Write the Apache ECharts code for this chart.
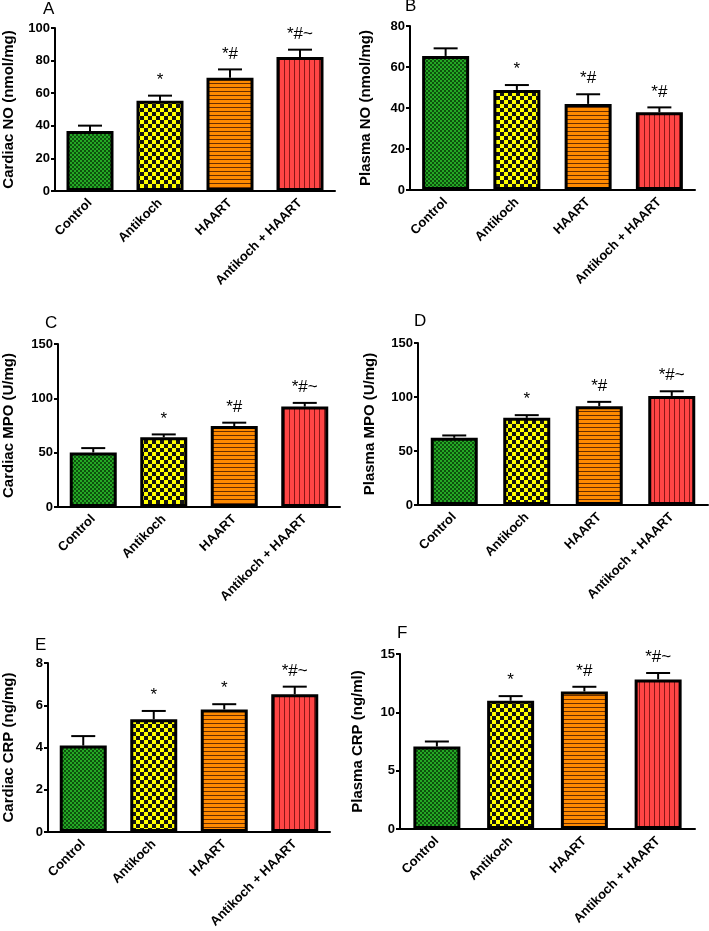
<!DOCTYPE html>
<html>
<head>
<meta charset="utf-8">
<script src="https://cdn.jsdelivr.net/npm/echarts@6/dist/echarts.min.js"></script>
<style>
  html, body { margin: 0; padding: 0; background: #fff; }
  #chart { width: 709px; height: 931px; }
</style>
</head>
<body>
<div id="chart"></div>
<script>
// groups on the x axis
var groups = ['Control', 'Antikoch', 'HAART', 'Antikoch + HAART']

// mean and SEM of each panel
var cardiacNO = [36.8, 55.3, 69.5, 82.2]
var cardiacNOSem = [3.3, 3.2, 5.1, 4.5]
var plasmaNO = [65.4, 48.8, 42.0, 37.9]
var plasmaNOSem = [3.7, 2.4, 4.7, 2.4]
var cardiacMPO = [50.2, 64.1, 74.5, 92.4]
var cardiacMPOSem = [4.0, 2.7, 3.1, 3.4]
var plasmaMPO = [62.2, 80.7, 91.5, 101.0]
var plasmaMPOSem = [2.2, 2.5, 4.0, 4.3]
var cardiacCRP = [4.09, 5.34, 5.80, 6.52]
var cardiacCRPSem = [0.45, 0.39, 0.25, 0.36]
var plasmaCRP = [7.07, 10.99, 11.79, 12.82]
var plasmaCRPSem = [0.43, 0.40, 0.40, 0.55]

// significance marks above each bar
var marksA = ['', '*', '*#', '*#~']
var marksB = ['', '*', '*#', '*#']
var marksC = ['', '*', '*#', '*#~']
var marksD = ['', '*', '*#', '*#~']
var marksE = ['', '*', '*', '*#~']
var marksF = ['', '*', '*#', '*#~']

// y axis ticks: min, max, step
var ticksA = [0, 100, 20]
var ticksB = [0, 80, 20]
var ticksC = [0, 150, 50]
var ticksD = [0, 150, 50]
var ticksE = [0, 8, 2]
var ticksF = [0, 15, 5]

var FONT = "'Liberation Sans', Arial, sans-serif"

// fill patterns drawn on small canvases
function makePattern(kind) {
  var c = document.createElement('canvas')
  var ctx = c.getContext('2d')
  if (kind === 'green') {
    c.width = 4; c.height = 4
    ctx.fillStyle = '#0d520d'
    ctx.fillRect(0, 0, 4, 4)
    ctx.fillStyle = '#25a825'
    ctx.fillRect(0, 0, 2, 2)
    ctx.fillRect(2, 2, 2, 2)
  } else if (kind === 'yellow') {
    c.width = 8; c.height = 8
    ctx.fillStyle = '#ffff00'
    ctx.fillRect(0, 0, 8, 8)
    ctx.fillStyle = '#141414'
    ctx.fillRect(0, 0, 4, 4)
    ctx.fillRect(4, 4, 4, 4)
  } else if (kind === 'orange') {
    c.width = 8; c.height = 4
    ctx.fillStyle = '#ff8a00'
    ctx.fillRect(0, 0, 8, 4)
    ctx.fillStyle = '#6a2e00'
    ctx.fillRect(0, 3, 8, 1)
  } else {
    c.width = 5; c.height = 8
    ctx.fillStyle = '#ff4545'
    ctx.fillRect(0, 0, 5, 8)
    ctx.fillStyle = '#8a1616'
    ctx.fillRect(4, 0, 1, 8)
  }
  return { image: c, repeat: 'repeat' }
}
var fills = [makePattern('green'), makePattern('yellow'), makePattern('orange'), makePattern('red')]

var panels = [
  { letter: 'A', name: 'Cardiac NO (nmol/mg)', mean: cardiacNO, sem: cardiacNOSem, marks: marksA, ticks: ticksA,
    grid: { left: 49, right: 374, top: 28, bottom: 740 }, gap: 39, lx: 43, ly: 1 },
  { letter: 'B', name: 'Plasma NO (nmol/mg)', mean: plasmaNO, sem: plasmaNOSem, marks: marksB, ticks: ticksB,
    grid: { left: 410, right: 14, top: 26, bottom: 741 }, gap: 37, lx: 405, ly: -2 },
  { letter: 'C', name: 'Cardiac MPO (U/mg)', mean: cardiacMPO, sem: cardiacMPOSem, marks: marksC, ticks: ticksC,
    grid: { left: 52, right: 369, top: 344, bottom: 424 }, gap: 42, lx: 45, ly: 315 },
  { letter: 'D', name: 'Plasma MPO (U/mg)', mean: plasmaMPO, sem: plasmaMPOSem, marks: marksD, ticks: ticksD,
    grid: { left: 418, right: 1, top: 343, bottom: 426 }, gap: 41, lx: 414, ly: 313 },
  { letter: 'E', name: 'Cardiac CRP (ng/mg)', mean: cardiacCRP, sem: cardiacCRPSem, marks: marksE, ticks: ticksE,
    grid: { left: 40, right: 379, top: 663, bottom: 99 }, gap: 32, lx: 35, ly: 637 },
  { letter: 'F', name: 'Plasma CRP (ng/ml)', mean: plasmaCRP, sem: plasmaCRPSem, marks: marksF, ticks: ticksF,
    grid: { left: 400, right: 14, top: 654, bottom: 102 }, gap: 35, lx: 397, ly: 625 }
]

var grid = [], xAxis = [], yAxis = [], series = [], graphic = []

panels.forEach(function (p, k) {
  grid.push(p.grid)
  xAxis.push({
    type: 'category', gridIndex: k, data: groups,
    axisLine: { lineStyle: { color: '#000', width: 2 } },
    axisTick: { alignWithLabel: true, length: 5, lineStyle: { color: '#000', width: 2 } },
    axisLabel: { rotate: 45, interval: 0, margin: 10, color: '#000', fontWeight: 'bold', fontSize: 13, fontFamily: FONT }
  })
  yAxis.push({
    type: 'value', gridIndex: k, min: p.ticks[0], max: p.ticks[1], interval: p.ticks[2],
    name: p.name, nameLocation: 'middle', nameGap: p.gap,
    nameTextStyle: { color: '#000', fontWeight: 'bold', fontSize: 15, fontFamily: FONT },
    splitLine: { show: false },
    axisLine: { show: true, lineStyle: { color: '#000', width: 2 } },
    axisTick: { show: true, length: 4, lineStyle: { color: '#000', width: 2 } },
    axisLabel: { margin: 5, color: '#000', fontWeight: 'bold', fontSize: 13, fontFamily: FONT }
  })
  series.push({
    type: 'bar', xAxisIndex: k, yAxisIndex: k, barWidth: 47,
    data: p.mean.map(function (v, i) {
      return { value: v, itemStyle: { color: fills[i] } }
    }),
    itemStyle: { borderColor: '#000', borderWidth: 3 },
    z: 3
  })
  series.push({
    type: 'custom', xAxisIndex: k, yAxisIndex: k, z: 4,
    data: p.mean.map(function (v, i) { return [i, v, v + p.sem[i]] }),
    renderItem: function (params, api) {
      var i = api.value(0)
      var base = api.coord([i, api.value(1)])
      var top = api.coord([i, api.value(2)])
      var half = 12
      var style = { stroke: '#000', lineWidth: 2 }
      return {
        type: 'group',
        children: [
          { type: 'line', shape: { x1: base[0], y1: base[1], x2: top[0], y2: top[1] }, style: style },
          { type: 'line', shape: { x1: top[0] - half, y1: top[1], x2: top[0] + half, y2: top[1] }, style: style },
          { type: 'text', x: top[0], y: top[1] - 7,
            style: { text: p.marks[params.dataIndex], fill: '#000', font: '17px ' + FONT, align: 'center', verticalAlign: 'bottom' } }
        ]
      }
    }
  })
  graphic.push({
    type: 'text', left: p.lx, top: p.ly,
    style: { text: p.letter, fill: '#000', font: '17px ' + FONT }
  })
})

var chart = echarts.init(document.getElementById('chart'))
chart.setOption({
  animation: false,
  backgroundColor: '#fff',
  grid: grid,
  xAxis: xAxis,
  yAxis: yAxis,
  series: series,
  graphic: graphic
})
</script>
</body>
</html>
